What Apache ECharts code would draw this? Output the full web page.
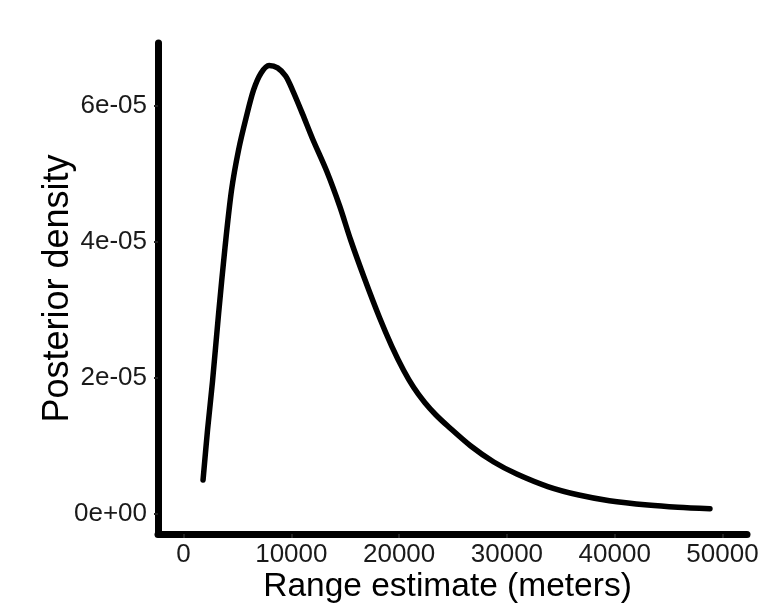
<!DOCTYPE html>
<html>
<head>
<meta charset="utf-8">
<script src="https://cdn.jsdelivr.net/npm/echarts@6/dist/echarts.min.js"></script>
<style>
html,body{margin:0;padding:0;background:#fff;}
#chart{width:771px;height:613px;}
</style>
</head>
<body>
<div id="chart"></div>
<script>
// Range estimate (meters)
var rangeX = [1811, 2228, 2693, 3250, 3853, 4457, 5107, 5803, 6500, 7196, 7939, 8728, 9471, 10121, 11049, 11978, 13278, 14485, 15506, 16806, 18199, 19313, 20427, 21356, 22377, 23398, 24513, 26648, 28784, 30919, 33798, 36676, 39508, 43083, 45868, 48839];
// Posterior density
var density = [5.00e-6, 1.235e-5, 1.956e-5, 2.941e-5, 3.926e-5, 4.765e-5, 5.353e-5, 5.824e-5, 6.235e-5, 6.485e-5, 6.596e-5, 6.56e-5, 6.44e-5, 6.23e-5, 5.88e-5, 5.515e-5, 5.044e-5, 4.529e-5, 4.029e-5, 3.456e-5, 2.882e-5, 2.47e-5, 2.11e-5, 1.86e-5, 1.64e-5, 1.46e-5, 1.294e-5, 1.0e-5, 7.65e-6, 5.88e-6, 4.04e-6, 2.79e-6, 1.96e-6, 1.32e-6, 1.0e-6, 7.9e-7];

var xTickValues = [0, 10000, 20000, 30000, 40000, 50000];
var xTickLabels = ['0', '10000', '20000', '30000', '40000', '50000'];
var yTickValues = [0, 2e-5, 4e-5, 6e-5];
var yTickLabels = ['0e+00', '2e-05', '4e-05', '6e-05'];

function labelFor(vals, labels, v) {
  var best = 0, bd = Infinity;
  for (var i = 0; i < vals.length; i++) {
    var d = Math.abs(vals[i] - v);
    if (d < bd) { bd = d; best = i; }
  }
  return labels[best];
}

var seriesData = rangeX.map(function (x, i) { return [x, density[i]]; });

var chart = echarts.init(document.getElementById('chart'), null, {renderer: 'canvas'});
chart.setOption({
  animation: false,
  backgroundColor: '#ffffff',
  grid: {left: 158, right: 24, top: 43, bottom: 79, containLabel: false},
  xAxis: {
    type: 'value',
    min: -2368,
    max: 52275,
    name: 'Range estimate (meters)',
    nameLocation: 'middle',
    nameGap: 36,
    nameMoveOverlap: false,
    nameTextStyle: {fontFamily: 'Liberation Sans', fontSize: 33.5, color: '#000', padding: [0, 10, 0, 0]},
    axisLine: {show: true, onZero: false, lineStyle: {color: '#000', width: 7}},
    axisTick: {show: true, length: 4, lineStyle: {color: '#222', width: 2}, customValues: xTickValues},
    axisLabel: {
      customValues: xTickValues,
      margin: 8,
      fontFamily: 'Liberation Sans', fontSize: 26, color: '#1a1a1a',
      formatter: function (v) { return labelFor(xTickValues, xTickLabels, v); }
    },
    splitLine: {show: false}
  },
  yAxis: {
    type: 'value',
    min: -2.94e-6,
    max: 6.926e-5,
    name: 'Posterior density',
    nameLocation: 'middle',
    nameGap: 82,
    nameMoveOverlap: false,
    nameTextStyle: {fontFamily: 'Liberation Sans', fontSize: 36, color: '#000'},
    axisLine: {show: true, onZero: false, lineStyle: {color: '#000', width: 7}},
    axisTick: {show: true, length: 4, lineStyle: {color: '#222', width: 2}, customValues: yTickValues},
    axisLabel: {
      customValues: yTickValues,
      margin: 11,
      fontFamily: 'Liberation Sans', fontSize: 26, color: '#1a1a1a',
      formatter: function (v) { return labelFor(yTickValues, yTickLabels, v); }
    },
    splitLine: {show: false}
  },
  series: [{
    type: 'line',
    data: seriesData,
    smooth: 0.3,
    showSymbol: false,
    symbol: 'none',
    lineStyle: {color: '#000', width: 5.5, cap: 'round', join: 'round'}
  }]
});
</script>
</body>
</html>
